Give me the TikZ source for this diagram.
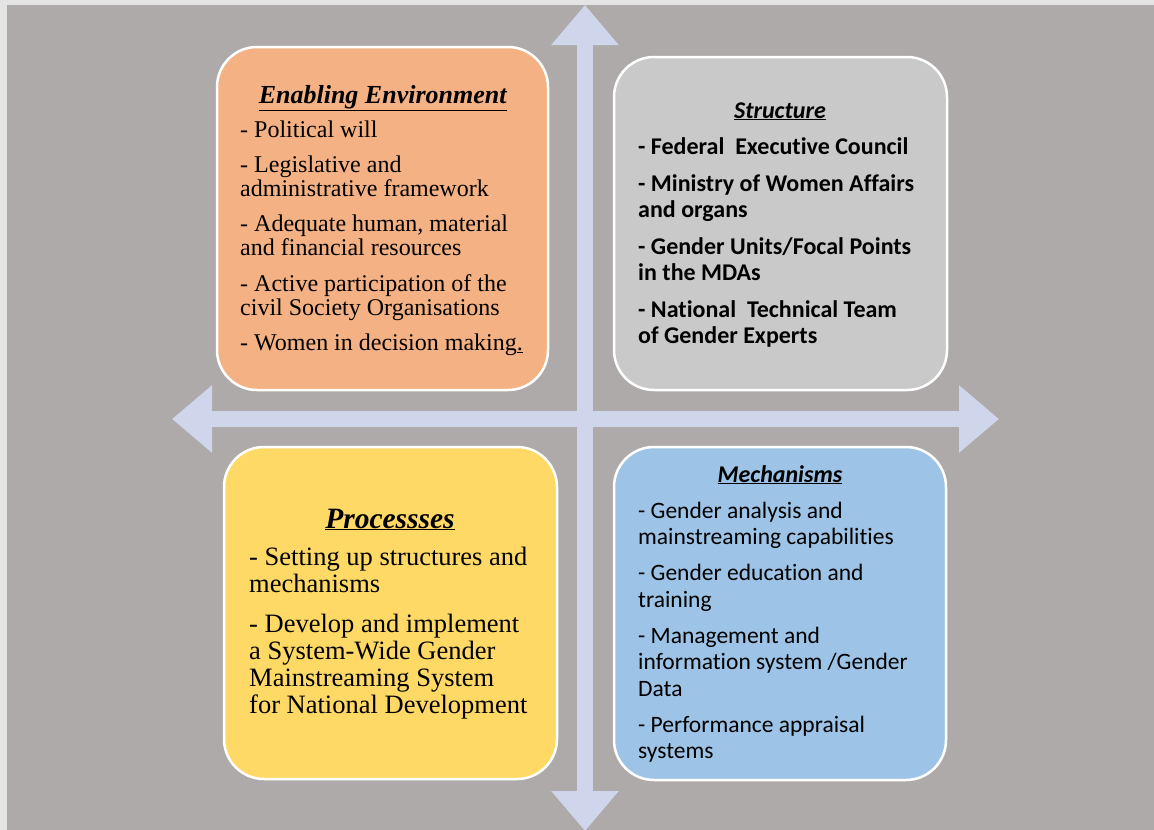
\documentclass[tikz,border=0pt]{standalone}
\usepackage{fontspec}
\setmainfont{Liberation Serif}
\newfontfamily\calibri[Ligatures=NoCommon]{Carlito}
\usetikzlibrary{arrows.meta}

\definecolor{bggray}{HTML}{AEAAAA}
\definecolor{axisblue}{HTML}{CFD5EA}
\definecolor{envorange}{HTML}{F4B183}
\definecolor{structgray}{HTML}{C9C9C9}
\definecolor{procyellow}{HTML}{FFD966}
\definecolor{mechblue}{HTML}{9DC3E6}
\definecolor{framegray}{HTML}{E4E4E4}

\newcommand{\heading}[1]{\underline{\textbf{\textit{#1}}}}

\begin{document}
\begin{tikzpicture}[
    x=1pt, y=-1pt,
    axis/.style = {line width=16pt, draw=axisblue, {Triangle[length=40pt,width=65pt]}-{Triangle[length=40pt,width=65pt]}},
    quad/.style = {rounded corners=40pt, draw=white, line width=2.5pt, inner sep=0pt},
    serif title/.style = {font=\fontsize{26}{28}\selectfont, anchor=base, inner sep=0pt},
    sans title/.style = {font=\calibri\fontsize{24}{28}\selectfont, anchor=base, inner sep=0pt},
    body/.style = {align=left, anchor=north west, inner sep=0pt}
]
\useasboundingbox (0,0) rectangle (1154,830);

% Background
\fill[framegray] (0,0) rectangle (1154,830);
\fill[bggray] (7,5) rectangle (1154,830);

% Axes
\coordinate (north) at (585,5);
\coordinate (south) at (585,831);
\coordinate (west) at (172,419);
\coordinate (east) at (999,419);
\draw[axis] (west) -- (east);
\draw[axis] (north) -- (south);

% Quadrants
\node[quad, fill=envorange, minimum width=331pt, minimum height=343pt] (env) at (382.5,218.5) {};
\node[quad, fill=structgray, minimum width=333pt, minimum height=333pt] (struct) at (780.5,223.5) {};
\node[quad, fill=procyellow, minimum width=333pt, minimum height=332pt] (proc) at (390.5,613) {};
\node[quad, fill=mechblue, minimum width=332pt, minimum height=333pt] (mech) at (780,613.5) {};

% Enabling Environment
\node[serif title] (envtitle) at (383,103) {\heading{Enabling Environment}};
\node[body, font=\fontsize{24}{24}\selectfont] (envtext) at (240,120.2) {\strut- Political will\\[11.3pt]- Legislative and\\administrative framework\\[11.3pt]- Adequate human, material\\and financial resources\\[11.3pt]- Active participation of the\\civil Society Organisations\\[11.3pt]- Women in decision making\underline{.}};

% Structure
\node[sans title] (structtitle) at (780,118) {\heading{Structure}};
\node[body, font=\calibri\bfseries\fontsize{24}{25.5}\selectfont] (structtext) at (638,136.15) {\strut- Federal\ \ Executive Council\\[12pt]- Ministry of Women Affairs\\and organs\\[12pt]- Gender Units/Focal Points\\in the MDAs\\[12pt]- National\ \ Technical Team\\of Gender Experts};

% Processes
\node[serif title, font=\fontsize{29.5}{32}\selectfont] (proctitle) at (390,528) {\heading{Processses}};
\node[body, font=\fontsize{26.5}{27}\selectfont] (proctext) at (249,546.1) {\strut- Setting up structures and\\mechanisms\\[13pt]- Develop and implement\\a System-Wide Gender\\Mainstreaming System\\for National Development};

% Mechanisms
\node[sans title] (mechtitle) at (780,482) {\heading{Mechanisms}};
\node[body, font=\calibri\fontsize{23.5}{26.5}\selectfont] (mechtext) at (638,499.45) {\strut- Gender analysis and\\mainstreaming capabilities\\[9.5pt]- Gender education and\\training\\[9.5pt]- Management and\\information system /Gender\\Data\\[9.5pt]- Performance appraisal\\systems};

\end{tikzpicture}
\end{document}
